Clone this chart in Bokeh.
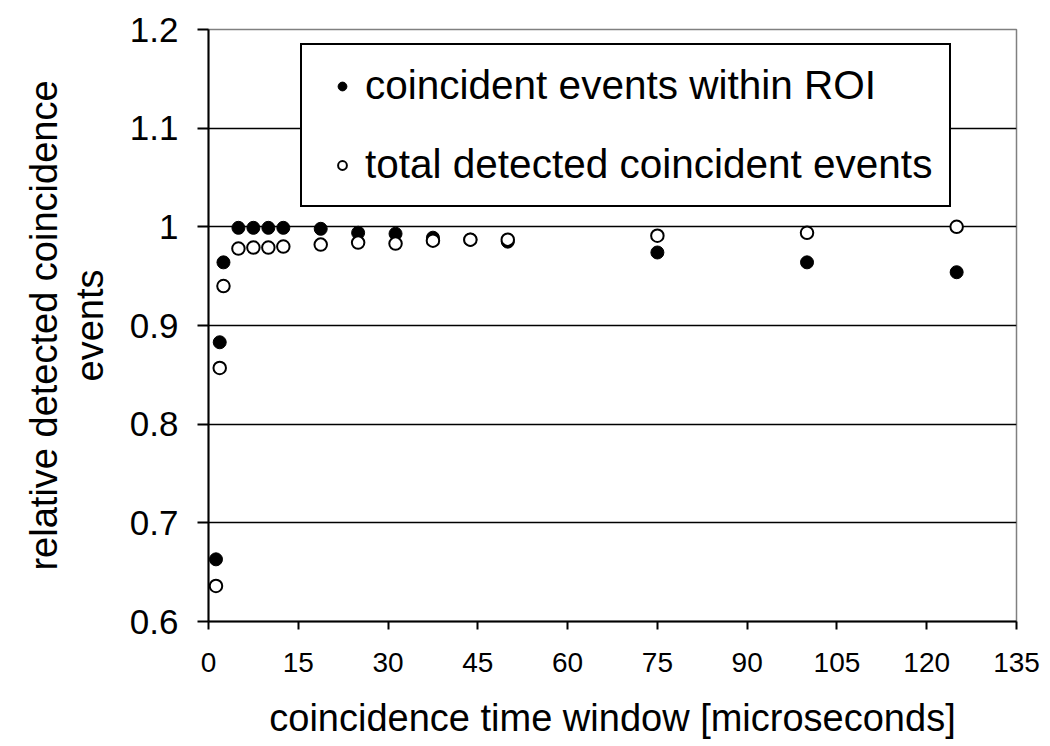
from bokeh.plotting import figure
from bokeh.models import FixedTicker, Legend, LegendItem, ColumnDataSource
from bokeh.embed import file_html
from bokeh.resources import INLINE

# ---- data ----
window_us = [1.25, 1.875, 2.5, 5, 7.5, 10, 12.5, 18.75, 25, 31.25, 37.5, 43.75, 50, 75, 100, 125]
within_roi = [0.663, 0.883, 0.964, 0.999, 0.999, 0.999, 0.999, 0.998, 0.994, 0.993, 0.989, 0.987, 0.985, 0.974, 0.964, 0.954]
total_detected = [0.636, 0.857, 0.940, 0.978, 0.979, 0.979, 0.980, 0.982, 0.984, 0.983, 0.986, 0.987, 0.987, 0.991, 0.994, 1.000]

x_ticks = [0, 15, 30, 45, 60, 75, 90, 105, 120, 135]
y_ticks = [0.6, 0.7, 0.8, 0.9, 1.0, 1.1, 1.2]
y_tick_labels = ["0.6", "0.7", "0.8", "0.9", "1", "1.1", "1.2"]
series_names = ["coincident events within ROI", "total detected coincident events"]

FONT = "Liberation Sans"

p = figure(frame_width=808, frame_height=592, x_range=(0, 135), y_range=(0.6, 1.2),
           output_backend="svg", toolbar_location=None,
           min_border_left=208, min_border_right=26, min_border_top=29, min_border_bottom=121)
p.background_fill_color = "white"
p.border_fill_color = "white"
p.outline_line_color = "#808080"
p.outline_line_width = 1.5

src = ColumnDataSource(dict(x=window_us, a=within_roi, b=total_detected))
r1 = p.scatter("x", "a", source=src, size=13, fill_color="black", line_color="black", line_width=1)
r2 = p.scatter("x", "b", source=src, size=12.5, fill_color="white", line_color="black", line_width=2)

# axes
p.xaxis.ticker = FixedTicker(ticks=x_ticks)
p.yaxis.ticker = FixedTicker(ticks=y_ticks)
p.yaxis.major_label_overrides = {t: l for t, l in zip(y_ticks, y_tick_labels)}
for ax in (p.xaxis[0], p.yaxis[0]):
    ax.axis_line_color = "black"
    ax.axis_line_width = 2
    ax.major_tick_line_color = "black"
    ax.major_tick_line_width = 2
    ax.major_tick_in = 0
    ax.minor_tick_line_color = None
    ax.major_label_text_font = FONT
    ax.major_label_text_color = "black"
    ax.axis_label_text_font = FONT
    ax.axis_label_text_font_style = "normal"
    ax.axis_label_text_color = "black"
    ax.axis_label_text_font_size = "38px"

p.xaxis.major_tick_out = 8
p.xaxis.major_label_standoff = 23
p.xaxis.major_label_text_font_size = "28px"
p.xaxis.axis_label = "coincidence time window [microseconds]"
p.xaxis.axis_label_standoff = 22

p.yaxis.major_tick_out = 11
p.yaxis.major_label_standoff = 19
p.yaxis.major_label_text_font_size = "35px"
p.yaxis.axis_label = "relative detected coincidence\nevents"
p.yaxis.axis_label_standoff = 16
p.yaxis.axis_label_text_line_height = 1.1

p.xgrid.grid_line_color = None
p.ygrid.ticker = FixedTicker(ticks=y_ticks[1:-1])
p.ygrid.grid_line_color = "black"
p.ygrid.grid_line_width = 1.5

legend = Legend(items=[LegendItem(label=series_names[0], renderers=[r1]),
                       LegendItem(label=series_names[1], renderers=[r2])],
                location=(92, 414))
legend.border_line_color = "black"
legend.border_line_alpha = 1
legend.border_line_width = 2
legend.background_fill_color = "white"
legend.background_fill_alpha = 1
legend.label_text_font = FONT
legend.label_text_font_size = "40.5px"
legend.label_text_color = "black"
legend.glyph_width = 46
legend.glyph_height = 22
legend.label_standoff = 0
legend.padding = 17
legend.spacing = 32
legend.label_height = 40
legend.margin = 0
p.add_layout(legend, "center")

open("out.html", "w").write(file_html(p, INLINE))
